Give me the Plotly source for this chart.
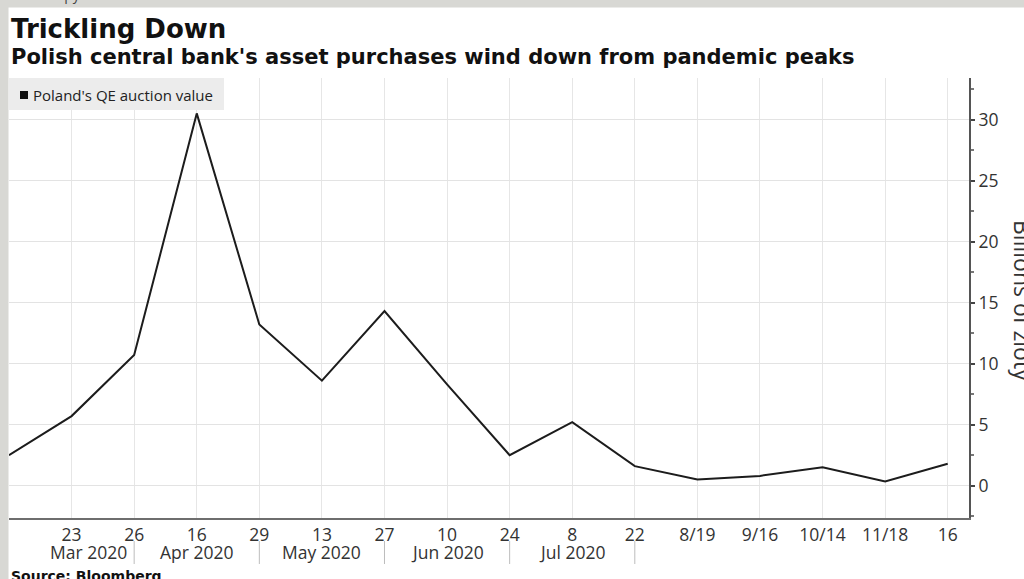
import plotly.graph_objects as go

# ---- data ----
tick_labels = ["", "23", "26", "16", "29", "13", "27", "10", "24", "8", "22",
               "8/19", "9/16", "10/14", "11/18", "16"]
qe_values = [2.5, 5.7, 10.7, 30.5, 13.2, 8.6, 14.3, 8.3, 2.5, 5.2, 1.6,
             0.5, 0.8, 1.5, 0.35, 1.8]
month_labels = ["Mar 2020", "Apr 2020", "May 2020", "Jun 2020", "Jul 2020"]
month_centers = [1.27, 3.0, 5.0, 7.0, 9.0]
month_separators = [2, 4, 6, 8, 10]
y_ticks = [0, 5, 10, 15, 20, 25, 30]

W, H = 1024, 579
L, R, T, B = 9, 969, 78, 518


def px(x):
    return (x - L) / (R - L)


def py(y):
    return (B - y) / (B - T)


xs = list(range(len(qe_values)))

fig = go.Figure()
fig.add_trace(go.Scatter(x=xs, y=qe_values, mode="lines",
                         line=dict(color="#1c1c1c", width=2),
                         showlegend=False, hoverinfo="skip"))

tick_font = dict(family="Open Sans", size=17.5, color="#333333")

shapes = [
    # grey frame strips
    dict(type="rect", xref="paper", yref="paper", x0=px(0), x1=px(8.5),
         y0=py(0), y1=py(H), fillcolor="#d8d8d4", line=dict(width=0), layer="above"),
    dict(type="rect", xref="paper", yref="paper", x0=px(0), x1=px(W),
         y0=py(0), y1=py(7.5), fillcolor="#d8d8d4", line=dict(width=0), layer="above"),
    # legend box and swatch
    dict(type="rect", xref="paper", yref="paper", x0=px(9), x1=px(224),
         y0=py(78), y1=py(110), fillcolor="#ececec", line=dict(width=0), layer="above"),
    dict(type="rect", xref="paper", yref="paper", x0=px(20), x1=px(28),
         y0=py(91), y1=py(99), fillcolor="#111111", line=dict(width=0), layer="above"),
]
for s in month_separators:
    shapes.append(dict(type="line", xref="x", yref="paper", x0=s, x1=s,
                       y0=py(541), y1=py(564), line=dict(color="#bdbdbd", width=1)))

annotations = [
    dict(text="<b>Trickling Down</b>", xref="paper", yref="paper", x=px(9), y=py(29),
         xanchor="left", yanchor="middle", showarrow=False,
         font=dict(family="DejaVu Sans", size=26, color="#111111")),
    dict(text="<b>Polish central bank's asset purchases wind down from pandemic peaks</b>",
         xref="paper", yref="paper", x=px(9), y=py(57),
         xanchor="left", yanchor="middle", showarrow=False,
         font=dict(family="DejaVu Sans", size=21, color="#111111")),
    dict(text="Poland's QE auction value", xref="paper", yref="paper",
         x=px(31), y=py(95), xanchor="left", yanchor="middle", showarrow=False,
         font=dict(family="Open Sans", size=15, color="#222222")),
    dict(text="Billions of zloty", xref="paper", yref="paper", x=px(1023), y=py(301),
         xanchor="center", yanchor="middle", textangle=90, showarrow=False,
         font=dict(family="Open Sans", size=23, color="#333333")),
    dict(text="<b>Source: Bloomberg</b>", xref="paper", yref="paper", x=px(9), y=py(566),
         xanchor="left", yanchor="top", showarrow=False,
         font=dict(family="DejaVu Sans", size=14, color="#111111")),
    dict(text="copy", xref="paper", yref="paper", x=px(47), y=py(-6),
         xanchor="left", yanchor="middle", showarrow=False,
         font=dict(family="Open Sans", size=14, color="#444444")),
]
for lab, c in zip(month_labels, month_centers):
    annotations.append(dict(text=lab, xref="x", yref="paper", x=c, y=py(552),
                            xanchor="center", yanchor="middle", showarrow=False,
                            font=tick_font))

fig.update_layout(
    width=W, height=H,
    margin=dict(l=L, r=W - R, t=T, b=H - B, pad=0),
    paper_bgcolor="white", plot_bgcolor="white",
    shapes=shapes, annotations=annotations,
    xaxis=dict(range=[0, 15.34], tickvals=xs, ticktext=tick_labels,
               showgrid=True, gridcolor="#e6e6e6", gridwidth=1,
               showline=True, linecolor="#6e6e6e", linewidth=2,
               ticks="", tickfont=tick_font, zeroline=False, fixedrange=True),
    yaxis=dict(side="right", range=[-2.65, 33.4], tickvals=y_ticks,
               showgrid=True, gridcolor="#e3e3e3", gridwidth=1,
               showline=True, linecolor="#555555", linewidth=2,
               ticks="outside", ticklen=4, tickwidth=2, tickcolor="#444444",
               minor=dict(tick0=0, dtick=2.5, ticks="outside", ticklen=3,
                          tickcolor="#777777", showgrid=False),
               tickfont=tick_font, zeroline=False, fixedrange=True),
)

fig.write_html("out.html")
